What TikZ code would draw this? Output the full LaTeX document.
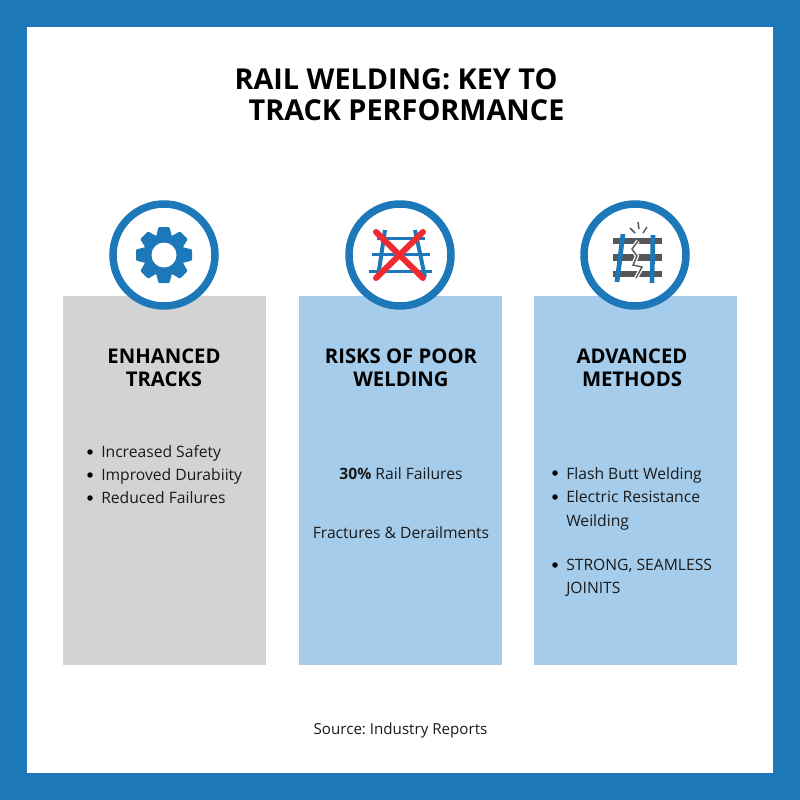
\documentclass[tikz,border=0pt]{standalone}
\usepackage{fontspec}
\setmainfont{Open Sans}
\frenchspacing
\definecolor{frameblue}{HTML}{1C78B8}
\definecolor{panelblue}{HTML}{A5CCEA}
\definecolor{panelgrey}{HTML}{D3D3D3}
\definecolor{ink}{HTML}{1A1A1A}
\definecolor{crossred}{HTML}{EE2B33}
\definecolor{tiegrey}{HTML}{55575A}
\newlength{\pxu}\setlength{\pxu}{0.75pt}
\tikzset{
  panel/.style={anchor=north west,minimum width=202.6\pxu,minimum height=369\pxu,inner sep=0pt},
  ring/.style={circle,draw=frameblue,line width=7.5\pxu,fill=white,minimum size=102\pxu,inner sep=0pt},
  heading/.style={font=\fontsize{15.2}{17.3}\selectfont\bfseries,text=black,align=center,anchor=center},
  body/.style={font=\fontsize{11.75}{14}\selectfont,text=ink,anchor=base west,inner sep=0pt},
  bodyc/.style={font=\fontsize{11.75}{14}\selectfont,text=ink,anchor=base,inner sep=0pt},
  sourcetext/.style={font=\fontsize{11.35}{14}\selectfont,text=ink,anchor=base,inner sep=0pt},
  bullet/.style={circle,fill=black,minimum size=5.5\pxu,inner sep=0pt},
  titletext/.style={font=\fontsize{21.6}{22}\selectfont\bfseries,text=black,anchor=base,inner sep=0pt},
  railline/.style={draw=frameblue,line width=3\pxu},
  cross/.style={draw=crossred,line width=6\pxu,line cap=round},
}
\begin{document}
\begin{tikzpicture}[x=0.75pt,y=-0.75pt]
\useasboundingbox (0,0) rectangle (800,800);
\fill[frameblue] (0,0) rectangle (800,800);
\fill[white] (27,27) rectangle (773,773);
\node[titletext] (t1) at (396,89) {RAIL WELDING: KEY TO};
\node[titletext] (t2) at (406.5,120.5) {TRACK PERFORMANCE};
% panels
\node[panel,fill=panelgrey] (p1) at (63,296) {};
\node[panel,fill=panelblue] (p2) at (299,296) {};
\node[panel,fill=panelblue] (p3) at (534,296) {};
% rings
\node[ring] (r1) at (164,255) {};
\node[ring] (r2) at (400,255) {};
\node[ring] (r3) at (635,255) {};
% gear
\begin{scope}[shift={(r1.center)}]
  \foreach \a in {0,45,...,315}
    \fill[frameblue,rotate=\a,rounded corners=0.8] (-5.5,-28) -- (5.5,-28) -- (8,-18) -- (-8,-18) -- cycle;
  \fill[frameblue] (0,0) circle (21);
  \fill[white] (0,0) circle (12.5);
\end{scope}
% broken track
\begin{scope}[shift={(r2.center)}]
  \draw[railline] (-23,-17) -- (25,-17);
  \draw[railline] (-28,-1) -- (30,-1);
  \draw[railline] (-31,16) -- (32,16);
  \draw[frameblue,line width=4\pxu] (-15,-25) -- (-22,22);
  \draw[frameblue,line width=4\pxu] (15,-25) -- (25,22);
  \draw[cross] (-24,-23) -- (23,23);
  \draw[cross] (23,-23) -- (-24,23);
\end{scope}
% cracked track
\begin{scope}[shift={(r3.center)}]
  \fill[tiegrey] (-22,-17) rectangle (27,-11);
  \fill[tiegrey] (-22,-1) rectangle (27,6);
  \fill[tiegrey] (-22,16) rectangle (27,22);
  \draw[white,line width=4\pxu] (3,-14) -- (-3,-6) -- (2,1) -- (-2,10) -- (7,12) -- (1,23);
  \draw[tiegrey,line width=1.4\pxu] (3,-14) -- (-3,-6) -- (2,1) -- (-2,10) -- (7,12) -- (1,23);
  \draw[frameblue,line width=4.7\pxu] (-12,-21) -- (-18,27);
  \draw[frameblue,line width=4.7\pxu] (18,-20) -- (17,28);
  \draw[tiegrey,line width=1.5\pxu] (3,-33) -- (4,-26);
  \draw[tiegrey,line width=1.5\pxu] (-5,-27) -- (0,-22);
  \draw[tiegrey,line width=1.5\pxu] (12,-28) -- (8,-22);
\end{scope}
% headings
\node[heading] (h1) at (164,368) {ENHANCED\\TRACKS};
\node[heading] (h2) at (401,368) {RISKS OF POOR\\WELDING};
\node[heading] (h3) at (632,368) {ADVANCED\\METHODS};
% left list
\node[bullet] (b1) at (90,452) {};
\node[bullet] (b2) at (90,475) {};
\node[bullet] (b3) at (90,498) {};
\node[body] (l1) at (101,457) {Increased Safety};
\node[body] (l2) at (101,480) {Improved Durabiity};
\node[body] (l3) at (101,503) {Reduced Failures};
% middle
\node[bodyc] (m1) at (401,479) {\textbf{30\%} Rail Failures};
\node[bodyc] (m2) at (401,538.5) {Fractures \& Derailments};
% right list
\node[bullet] (b4) at (555,473) {};
\node[bullet] (b5) at (555,497) {};
\node[bullet] (b6) at (555,565) {};
\node[body] (n1) at (566,479) {Flash Butt Welding};
\node[body] (n2) at (566,502) {Electric Resistance};
\node[body] (n3) at (566,526) {Weilding};
\node[body] (n4) at (566,570) {STRONG, SEAMLESS};
\node[body] (n5) at (566,593) {JOINITS};
\node[sourcetext] (src) at (400.5,734.5) {Source: Industry Reports};
\end{tikzpicture}
\end{document}
